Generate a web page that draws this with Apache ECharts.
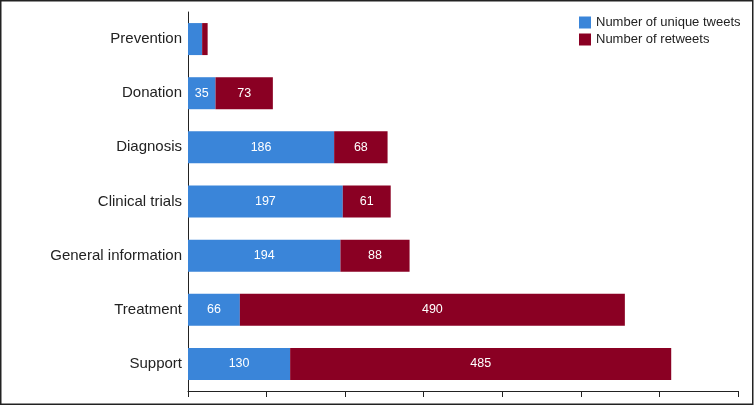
<!DOCTYPE html>
<html>
<head>
<meta charset="utf-8">
<script src="https://cdn.jsdelivr.net/npm/echarts@6/dist/echarts.min.js"></script>
<style>
html,body{margin:0;padding:0;background:#fff;}
#c{width:756px;height:408px;}
</style>
</head>
<body>
<div id="c"></div>
<script>
const categories = ['Prevention','Donation','Diagnosis','Clinical trials','General information','Treatment','Support'];
const uniqueTweets = [18, 35, 186, 197, 194, 66, 130];
const retweets = [7, 73, 68, 61, 88, 490, 485];
const seriesNames = ['Number of unique tweets','Number of retweets'];
const hideLabelFor = ['Prevention'];

const chart = echarts.init(document.getElementById('c'));
function mk(vals){
  return vals.map((v,i)=>({value:v, label:{show: hideLabelFor.indexOf(categories[i])<0}}));
}
chart.setOption({
  animation:false,
  textStyle:{fontFamily:'Liberation Sans, Arial, sans-serif'},
  graphic:[{type:'rect',shape:{x:0.75,y:0.75,width:752,height:403.5},style:{fill:'none',stroke:'#222',lineWidth:1.5},silent:true}],
  legend:{
    orient:'vertical', left:574, top:11, itemWidth:12, itemHeight:12, itemGap:4,
    icon:'rect',
    textStyle:{fontSize:13,color:'#222'},
    data:seriesNames
  },
  grid:{left:188,right:18,top:12,bottom:17},
  xAxis:{
    type:'value', min:0, max:700, interval:100,
    axisLine:{show:true,lineStyle:{color:'#222',width:1}},
    axisTick:{show:true,length:6,lineStyle:{color:'#222'}},
    axisLabel:{show:false},
    splitLine:{show:false}
  },
  yAxis:{
    type:'category', inverse:true, data:categories,
    axisLine:{show:true,lineStyle:{color:'#222',width:1}},
    axisTick:{show:false},
    axisLabel:{fontSize:15,color:'#222',margin:6}
  },
  series:[
    {name:seriesNames[0],type:'bar',stack:'t',barWidth:32,itemStyle:{color:'#3a85d9'},
     label:{position:'inside',color:'#fff',fontSize:12.5},data:mk(uniqueTweets)},
    {name:seriesNames[1],type:'bar',stack:'t',barWidth:32,itemStyle:{color:'#8a0023'},
     label:{position:'inside',color:'#fff',fontSize:12.5},data:mk(retweets)}
  ]
});
</script>
</body>
</html>
